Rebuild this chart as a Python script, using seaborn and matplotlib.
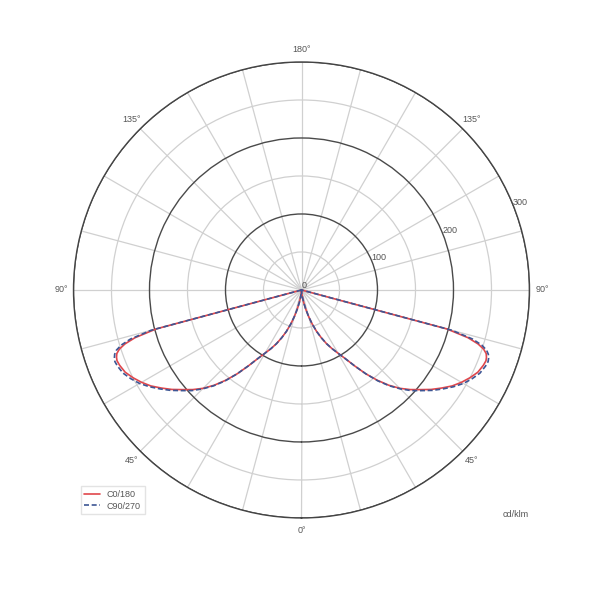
import matplotlib
matplotlib.use("Agg")
import matplotlib.pyplot as plt
from matplotlib.lines import Line2D
import numpy as np
import pandas as pd
import seaborn as sns

sns.set_theme(style="white")
plt.rcParams["font.family"] = ["Liberation Sans", "DejaVu Sans"]

# gamma angle (deg, 0 = nadir) and luminous intensity (cd/klm)
gamma = [0, 2.5, 5, 7.5, 10, 12.5, 15, 17.5, 20, 22.5, 25, 27.5, 30, 32.5,
         35, 37.5, 40, 42.5, 45, 47.5, 50, 52.5, 55, 57.5, 60, 62.5, 65,
         67.5, 69, 70, 71, 72, 73, 74, 75, 76, 80, 85, 90]
c0_180 = [0, 2, 5, 10, 17, 26, 36, 47, 58, 68, 78, 87, 96, 107,
          122, 139, 155, 170, 183, 194, 204, 215, 225, 235, 243, 250, 256,
          259, 260, 259, 257, 252, 243, 228, 198, 0, 0, 0, 0]
c90_270 = [0, 2, 5, 10, 17, 26, 36, 47, 58, 68, 78, 87, 96, 107,
           122, 139, 156, 171, 184, 196, 206, 217, 227, 237, 246, 253, 259,
           262, 263, 262, 260, 256, 248, 234, 205, 0, 0, 0, 0]

planes = ["C0/180", "C90/270"]
colors = {"C0/180": "#e0474c", "C90/270": "#3d5694"}

angle_ticks = list(range(0, 360, 15))
angle_names = {0: "0°", 45: "45°", 90: "90°", 135: "135°", 180: "180°",
               225: "135°", 270: "90°", 315: "45°"}
ring_vals = [50, 100, 150, 200, 250, 300]
ring_labels = [0, 100, 200, 300]

# build a closed curve: left half (negative gamma) then right half
rows = []
for name, vals in zip(planes, [c0_180, c90_270]):
    left = [(-g, v) for g, v in zip(gamma[::-1], vals[::-1])]
    right = [(g, v) for g, v in zip(gamma, vals)]
    for g, v in left + right:
        rows.append({"theta": np.deg2rad(g), "r": v, "plane": name})
df = pd.DataFrame(rows)

fig = plt.figure(figsize=(6, 6), dpi=100)
ax = fig.add_axes([0.1225, 0.1367, 0.76, 0.76], projection="polar")
ax.set_theta_zero_location("S")
ax.set_rlim(0, 300)

sns.lineplot(data=df, x="theta", y="r", hue="plane", style="plane",
             palette=colors, dashes={"C0/180": "", "C90/270": (3, 1.6)},
             sort=False, estimator=None, legend=False, linewidth=1.2, ax=ax)
ax.set_xlabel("")
ax.set_ylabel("")

# angular grid
ax.set_xticks(np.deg2rad(angle_ticks))
ax.set_xticklabels([angle_names.get(a, "") for a in angle_ticks])
ax.tick_params(axis="x", pad=-4, labelsize=6.5, labelcolor="#555555")
ax.xaxis.grid(True, color="#d0d0d0", linewidth=0.9)

# radial grid: dark every 100, light in between
ax.set_yticks(ring_vals)
ax.set_yticklabels([])
ax.yaxis.grid(True)
for val, gl in zip(ring_vals, ax.yaxis.get_gridlines()):
    if val % 100 == 0:
        gl.set_color("#4a4a4a")
        gl.set_linewidth(1.0)
    else:
        gl.set_color("#d0d0d0")
        gl.set_linewidth(0.9)
ax.spines["polar"].set_color("#444444")
ax.spines["polar"].set_linewidth(1.0)

for v in ring_labels:
    ax.text(np.deg2rad(111.5), max(v - 1, 0), str(v), ha="left", va="bottom",
            fontsize=6.5, color="#555555", clip_on=False)

handles = [Line2D([], [], color=colors["C0/180"], lw=1.2),
           Line2D([], [], color=colors["C90/270"], lw=1.2, dashes=(3, 1.6))]
fig.legend(handles, planes, loc="upper left", bbox_to_anchor=(0.127, 0.197),
           fontsize=6.5, frameon=True, handlelength=1.7, labelcolor="#555555",
           borderpad=0.4, labelspacing=0.3, edgecolor="#dddddd", fancybox=False)

fig.text(0.86, 0.142, "cd/klm", ha="center", va="center", fontsize=6.5,
         color="#555555")

fig.savefig("out.png", dpi=100, facecolor="white")
